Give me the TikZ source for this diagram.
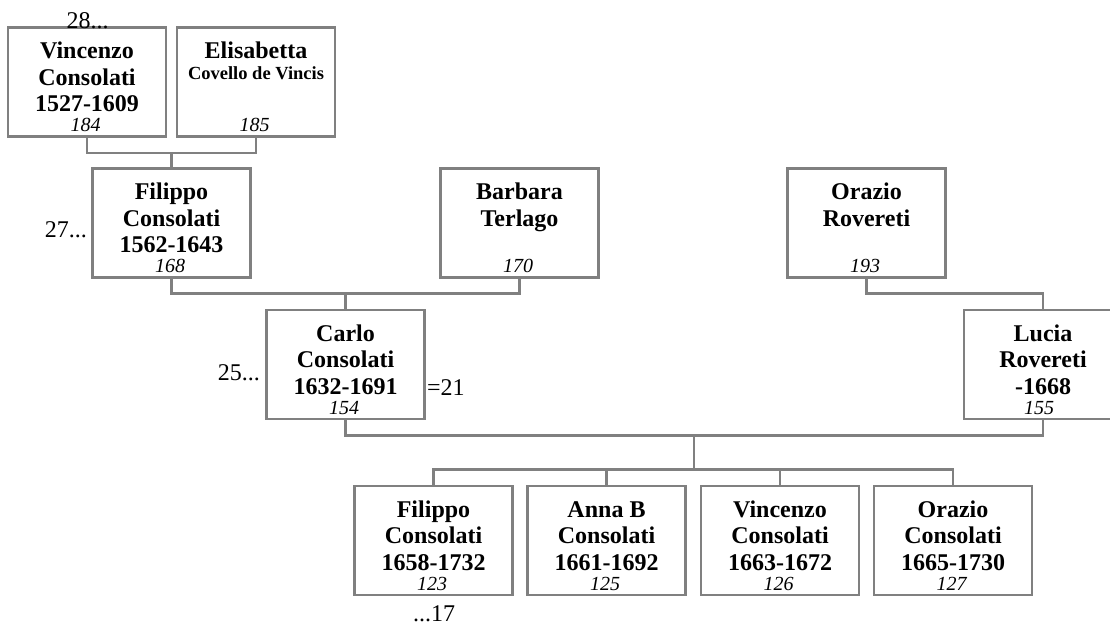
\documentclass[tikz,border=0pt]{standalone}
\usepackage{fontspec}
\setmainfont{Liberation Serif}
\usetikzlibrary{calc}
\definecolor{lc}{HTML}{808080}
\tikzset{
  box/.style={draw=lc, line width=2.2pt, minimum width=158pt, minimum height=109pt, inner sep=0pt, outer sep=0pt, anchor=north},
  nm/.style={font=\fontsize{24}{27}\selectfont\bfseries, inner sep=0pt, anchor=base},
  sm/.style={font=\fontsize{18.5}{21}\selectfont\bfseries, inner sep=0pt, anchor=base},
  num/.style={font=\fontsize{20}{22}\selectfont\itshape, inner sep=0pt, anchor=base},
  lbl/.style={font=\fontsize{24}{27}\selectfont, inner sep=0pt},
  conn/.style={draw=lc, line width=2.2pt},
}
\newcommand{\Person}[6]{%
  \node[box] (#1) at (#2,#3) {};
  \foreach \txt [count=\i] in {#4} {
    \node[nm] (#1-l\i) at ($(#1.north)+(0,{31+26.5*(\i-1)})$) {\txt};
  }
  \node[num] (#1-n) at ($(#1.north)+(#6,104)$) {#5};
}
\begin{document}
\begin{tikzpicture}[x=1pt,y=-1pt]
\useasboundingbox (0,0) rectangle (1110,627);
\clip (0,0) rectangle (1110,627);
% generation 1
\Person{v}{87}{27.5}{Vincenzo,Consolati,1527-1609}{184}{-1.5}
\node[box] (e) at (256,27.5) {};
\node[nm] (e-l1) at ($(e.north)+(0,31)$) {Elisabetta};
\node[sm] (e-l2) at ($(e.north)+(0,52)$) {Covello de Vincis};
\node[num] (e-n) at ($(e.north)+(-1.5,104)$) {185};
% generation 2
\Person{f}{171.5}{168.5}{Filippo,Consolati,1562-1643}{168}{-1.5}
\Person{b}{519.5}{168.5}{Barbara,Terlago}{170}{-1.5}
\Person{o}{866.5}{168.5}{Orazio,Rovereti}{193}{-1.5}
% generation 3
\Person{c}{345.5}{310}{Carlo,Consolati,1632-1691}{154}{-1.5}
\Person{l}{1043}{310}{Lucia,Rovereti,-1668}{155}{-4}
% children
\Person{k1}{433.5}{486}{Filippo,Consolati,1658-1732}{123}{-1.5}
\Person{k2}{606.5}{486}{Anna B,Consolati,1661-1692}{125}{-1.5}
\Person{k3}{780}{486}{Vincenzo,Consolati,1663-1672}{126}{-1.5}
\Person{k4}{953}{486}{Orazio,Consolati,1665-1730}{127}{-1.5}
% connectors
\coordinate (j1) at ($(v.south)!0.5!(e.south)+(0,16.5)$);
\draw[conn] (v.south) |- (j1) -| (e.south);
\draw[conn] (j1) -- (f.north);
\coordinate (j2) at ($(f.south)!0.5!(b.south)+(0,16)$);
\draw[conn] (f.south) |- (j2) -| (b.south);
\draw[conn] (j2) -- (c.north);
\coordinate (j3) at ($(o.south)+(0,16)$);
\draw[conn] (o.south) -- (j3) -| (l.north);
\coordinate (j4) at ($(c.south)!0.5!(l.south)+(0,16.5)$);
\draw[conn] (c.south) |- (j4) -| (l.south);
\coordinate (j5) at ($(j4)+(0,34)$);
\draw[conn] (j4) -- (j5);
\draw[conn] (k1.north) -- (k1.north |- j5) -- (k4.north |- j5) -- (k4.north);
\draw[conn] (k2.north) -- (k2.north |- j5);
\draw[conn] (k3.north) -- (k3.north |- j5);
% labels
\node[lbl, anchor=base] (t28) at (87.5,28) {28...};
\node[lbl, anchor=base east] (t27) at (87,237) {27...};
\node[lbl, anchor=base east] (t25) at (260,380) {25...};
\node[lbl, anchor=base west] (t21) at (427,395) {=21};
\node[lbl, anchor=base] (t17) at (434,621) {...17};
\end{tikzpicture}
\end{document}
